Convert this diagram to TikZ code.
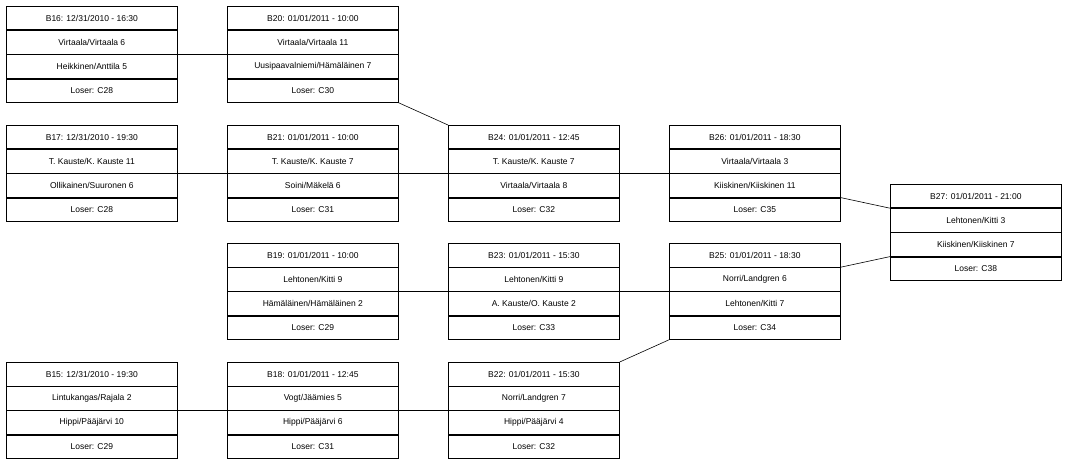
\documentclass[tikz,border=0pt]{standalone}
\usepackage{fontspec}
\setmainfont{Liberation Sans}
\usetikzlibrary{positioning}

\tikzset{%
          cell/.style={
            draw,
            line width=0.7pt,
            inner sep=0pt,
            minimum width=171pt,
            minimum height=23.5pt,
            font=\fontsize{8.5}{10}\selectfont
          },
          link/.style={
            draw,
            line width=0.6pt
          },
        }

% one match box: name, top-left corner, title, home, away, loser
\newcommand{\matchbox}[6]{%
        \node [cell, anchor=north west] (#1-1) at (#2) {#3};
        \node [cell, below=0pt of #1-1] (#1-2) {#4};
        \node [cell, below=0pt of #1-2] (#1-3) {#5};
        \node [cell, below=0pt of #1-3] (#1-4) {#6};
}

\begin{document}
\begin{tikzpicture}[x=1pt, y=-1pt]
        \useasboundingbox (0,0) rectangle (1067,462);

        \matchbox{B16}{6,6}{B16: 12/31/2010 - 16:30}{Virtaala/Virtaala 6}{Heikkinen/Anttila 5}{Loser: C28}
        \matchbox{B20}{227,6}{B20: 01/01/2011 - 10:00}{Virtaala/Virtaala 11}{Uusipaavalniemi/Hämäläinen 7}{Loser: C30}

        \matchbox{B17}{6,125}{B17: 12/31/2010 - 19:30}{T. Kauste/K. Kauste 11}{Ollikainen/Suuronen 6}{Loser: C28}
        \matchbox{B21}{227,125}{B21: 01/01/2011 - 10:00}{T. Kauste/K. Kauste 7}{Soini/Mäkelä 6}{Loser: C31}
        \matchbox{B24}{448,125}{B24: 01/01/2011 - 12:45}{T. Kauste/K. Kauste 7}{Virtaala/Virtaala 8}{Loser: C32}
        \matchbox{B26}{669,125}{B26: 01/01/2011 - 18:30}{Virtaala/Virtaala 3}{Kiiskinen/Kiiskinen 11}{Loser: C35}

        \matchbox{B27}{890,184}{B27: 01/01/2011 - 21:00}{Lehtonen/Kitti 3}{Kiiskinen/Kiiskinen 7}{Loser: C38}

        \matchbox{B19}{227,243}{B19: 01/01/2011 - 10:00}{Lehtonen/Kitti 9}{Hämäläinen/Hämäläinen 2}{Loser: C29}
        \matchbox{B23}{448,243}{B23: 01/01/2011 - 15:30}{Lehtonen/Kitti 9}{A. Kauste/O. Kauste 2}{Loser: C33}
        \matchbox{B25}{669,243}{B25: 01/01/2011 - 18:30}{Norri/Landgren 6}{Lehtonen/Kitti 7}{Loser: C34}

        \matchbox{B15}{6,362}{B15: 12/31/2010 - 19:30}{Lintukangas/Rajala 2}{Hippi/Pääjärvi 10}{Loser: C29}
        \matchbox{B18}{227,362}{B18: 01/01/2011 - 12:45}{Vogt/Jäämies 5}{Hippi/Pääjärvi 6}{Loser: C31}
        \matchbox{B22}{448,362}{B22: 01/01/2011 - 15:30}{Norri/Landgren 7}{Hippi/Pääjärvi 4}{Loser: C32}

        % winners move on
        \path [link] (B16-2.south east) -- (B20-2.south west);
        \path [link] (B17-2.south east) -- (B21-2.south west);
        \path [link] (B21-2.south east) -- (B24-2.south west);
        \path [link] (B24-2.south east) -- (B26-2.south west);
        \path [link] (B19-2.south east) -- (B23-2.south west);
        \path [link] (B23-2.south east) -- (B25-2.south west);
        \path [link] (B15-2.south east) -- (B18-2.south west);
        \path [link] (B18-2.south east) -- (B22-2.south west);

        \path [link] (B20-4.south east) -- (B24-1.north west);
        \path [link] (B22-1.north east) -- (B25-4.south west);
        \path [link] (B26-3.south east) -- (B27-1.south west);
        \path [link] (B25-1.south east) -- (B27-3.south west);
\end{tikzpicture}
\end{document}
